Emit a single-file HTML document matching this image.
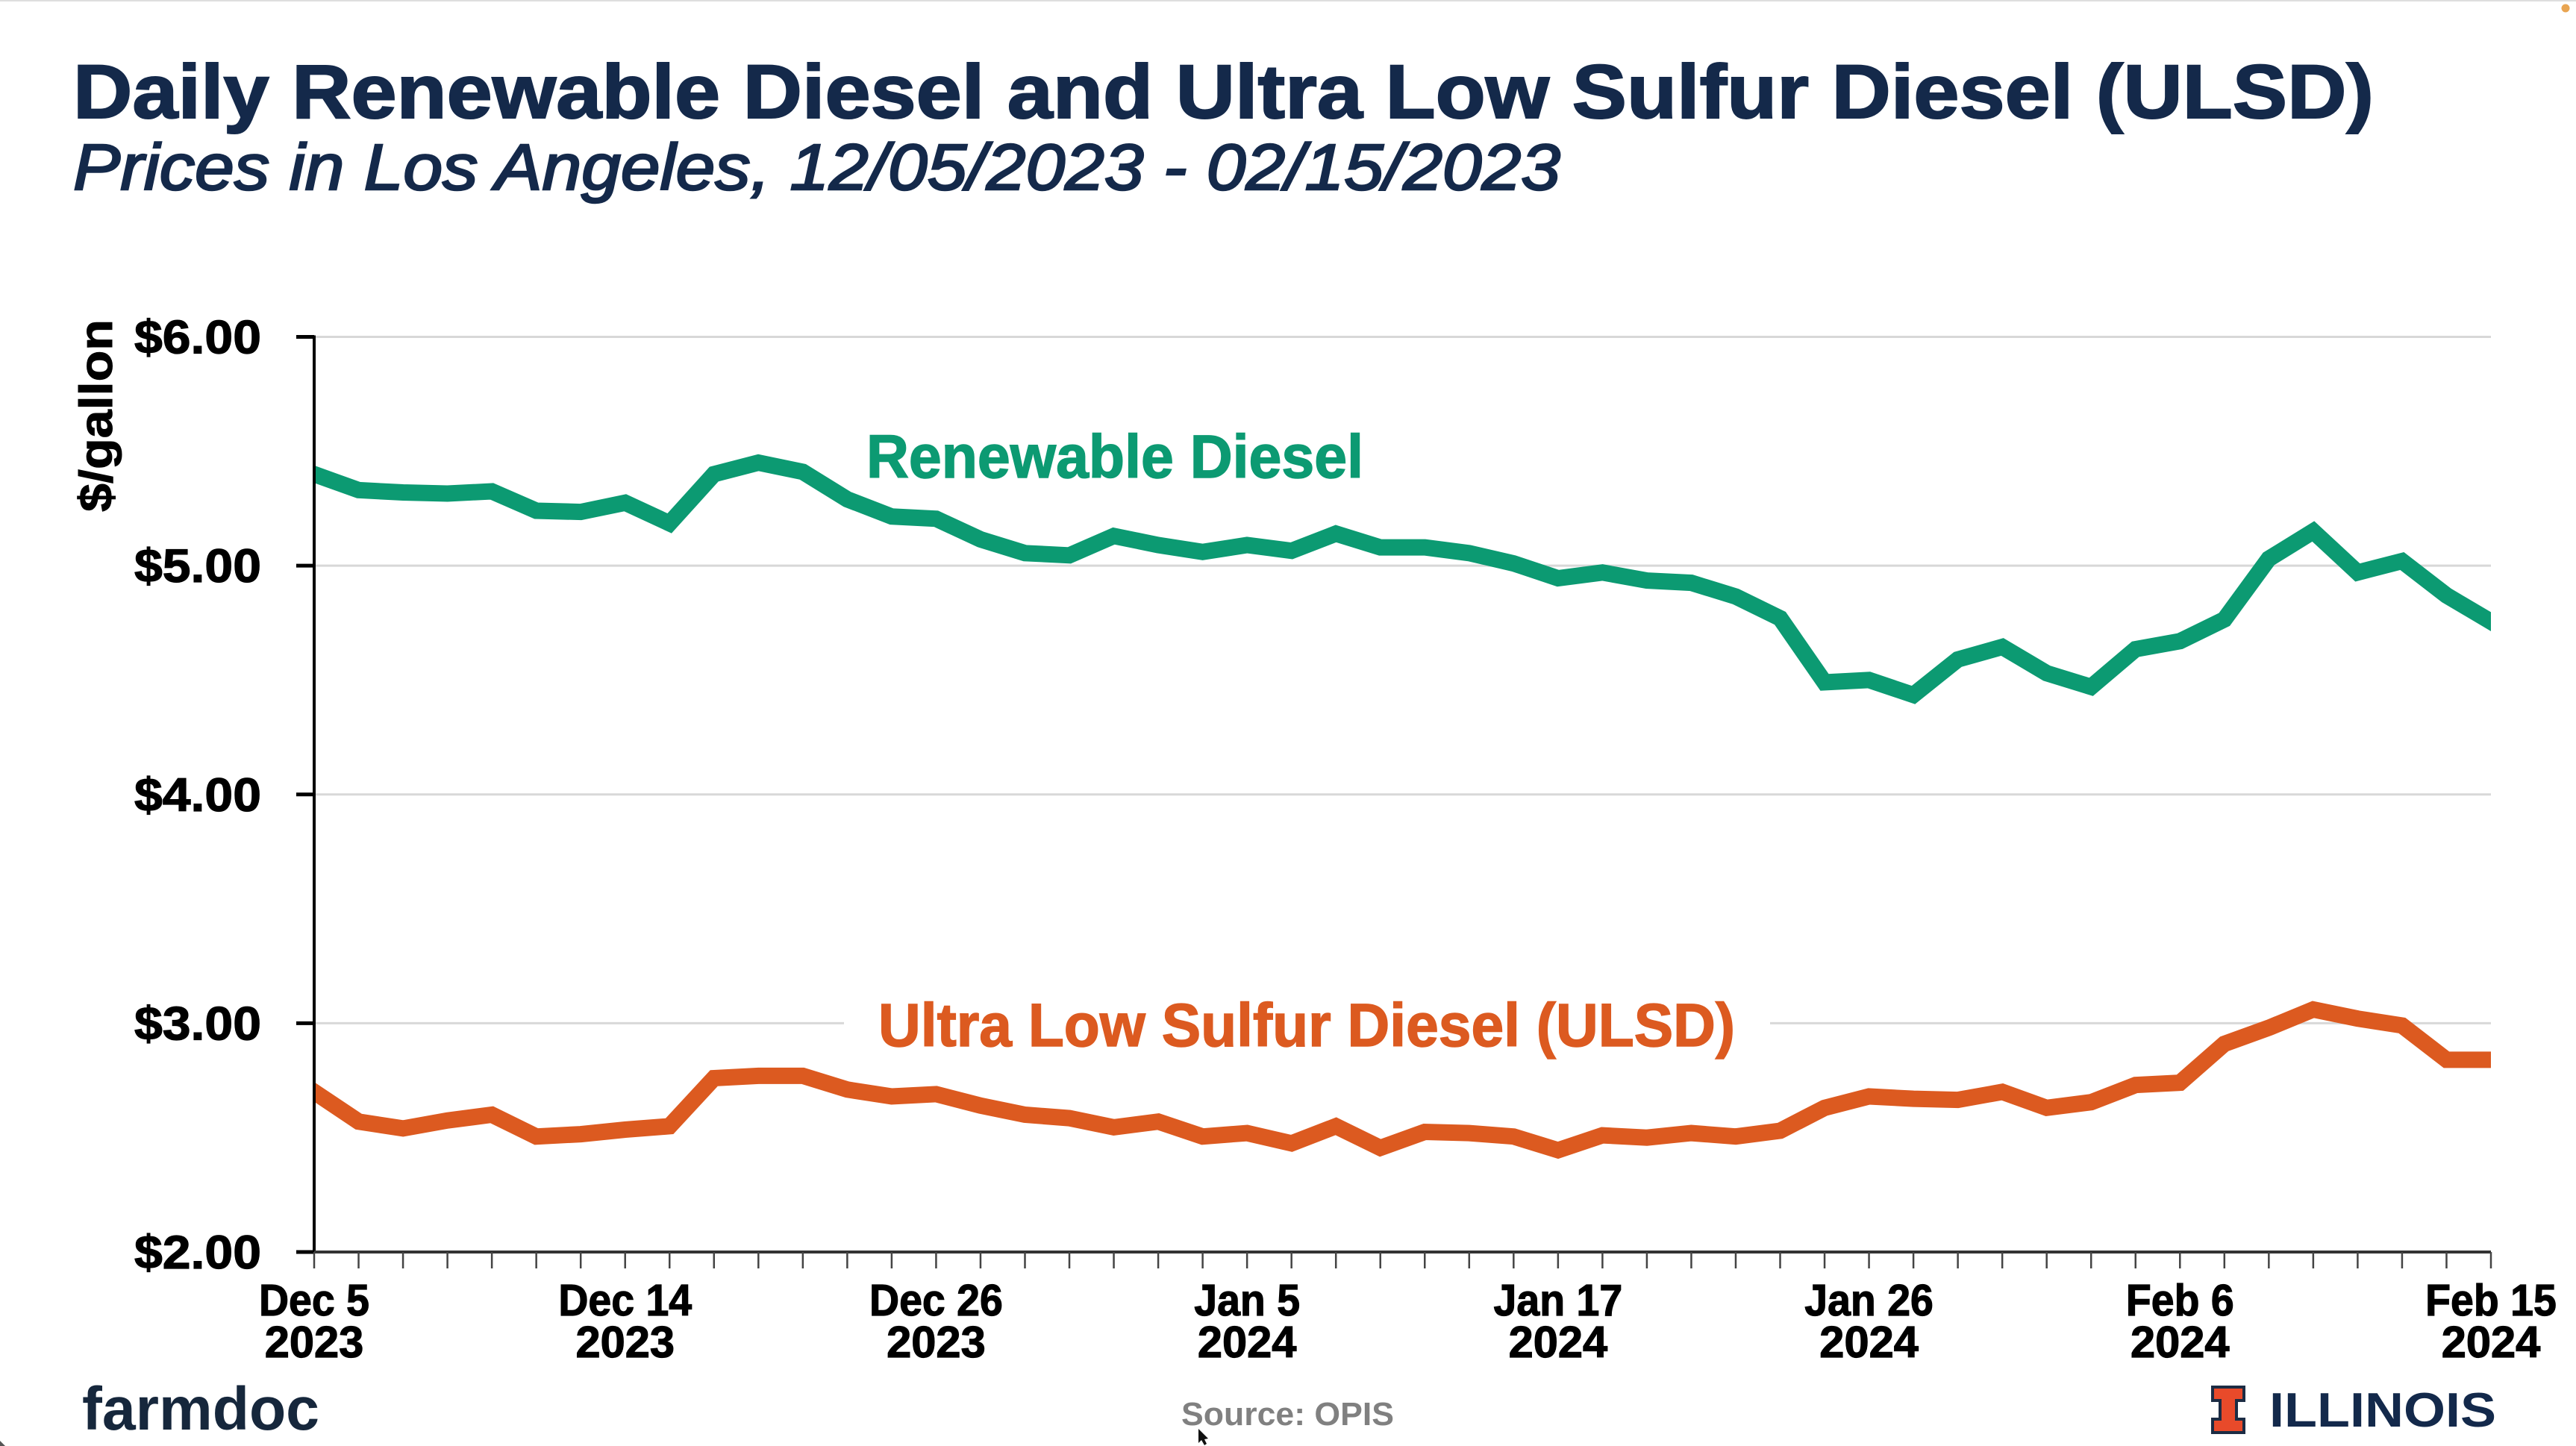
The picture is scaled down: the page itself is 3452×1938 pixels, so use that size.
<!DOCTYPE html>
<html lang="en">
<head>
<meta charset="utf-8">
<title>Daily Renewable Diesel and Ultra Low Sulfur Diesel (ULSD)</title>
<style>
html,body{margin:0;padding:0;background:#fff;width:3452px;height:1938px;overflow:hidden}
svg{display:block}
text{font-family:"Liberation Sans",sans-serif}
</style>
</head>
<body>
<svg id="chart" xmlns="http://www.w3.org/2000/svg" width="3452" height="1938" viewBox="0 0 3452 1938">
  <defs>
    <clipPath id="plot-clip"><rect x="421" y="400" width="2917" height="1290"/></clipPath>
  </defs>
  <rect x="0" y="0" width="3452" height="1938" fill="#ffffff"/>
  <rect x="0" y="0" width="3452" height="2" fill="#dedede"/>
  <circle cx="3438" cy="11" r="5.5" fill="#e9a552"/>
  <polygon points="0,1938 0,1931 7,1938" fill="#555555"/>

  <text x="98" y="158" font-size="102" font-weight="700" fill="#14294a" stroke="#14294a" stroke-width="2" textLength="3083" lengthAdjust="spacingAndGlyphs">Daily Renewable Diesel and Ultra Low Sulfur Diesel (ULSD)</text>
  <text x="98" y="254" font-size="87" font-style="italic" fill="#14294a" stroke="#14294a" stroke-width="2.5" textLength="1993" lengthAdjust="spacingAndGlyphs">Prices in Los Angeles, 12/05/2023 - 02/15/2023</text>

  <g id="grid"></g>
  <rect x="1131" y="1360" width="1241" height="24" fill="#ffffff"/>
  <g id="series" clip-path="url(#plot-clip)"></g>
  <g id="axes"></g>

  <text transform="translate(150,686) rotate(-90)" x="0" y="0" font-size="62" font-weight="700" fill="#000000" stroke="#000000" stroke-width="1" textLength="258" lengthAdjust="spacingAndGlyphs">$/gallon</text>

  <text x="1161" y="640" font-size="82" font-weight="700" fill="#0c9a72" stroke="#0c9a72" stroke-width="1.5" textLength="666" lengthAdjust="spacingAndGlyphs">Renewable Diesel</text>
  <text x="1177" y="1402" font-size="82" font-weight="700" fill="#dc5a20" stroke="#dc5a20" stroke-width="1.5" textLength="1148" lengthAdjust="spacingAndGlyphs">Ultra Low Sulfur Diesel (ULSD)</text>

  <text x="110" y="1916" font-size="82" font-weight="700" fill="#16273c" textLength="318" lengthAdjust="spacingAndGlyphs">farmdoc</text>
  <text x="1583" y="1910" font-size="44" font-weight="700" fill="#808080" textLength="285" lengthAdjust="spacingAndGlyphs">Source: OPIS</text>
  <polygon points="1606,1915 1606,1934 1610,1930 1614,1937 1617,1935 1614,1929 1619,1928" fill="#111111"/>

  <polygon points="2965,1859 3007,1859 3007,1877 2997,1877 2997,1902 3007,1902 3007,1920 2965,1920 2965,1902 2975,1902 2975,1877 2965,1877" fill="#e84a2a" stroke="#1c2c44" stroke-width="4"/>
  <text x="3041" y="1912" font-size="65" font-weight="700" fill="#13294b" textLength="304" lengthAdjust="spacingAndGlyphs">ILLINOIS</text>
</svg>
<script>
const categories = ["Dec 5 2023","Dec 6 2023","Dec 7 2023","Dec 8 2023","Dec 11 2023","Dec 12 2023","Dec 13 2023","Dec 14 2023","Dec 15 2023","Dec 18 2023","Dec 19 2023","Dec 20 2023","Dec 21 2023","Dec 22 2023","Dec 26 2023","Dec 27 2023","Dec 28 2023","Dec 29 2023","Jan 2 2024","Jan 3 2024","Jan 4 2024","Jan 5 2024","Jan 8 2024","Jan 9 2024","Jan 10 2024","Jan 11 2024","Jan 12 2024","Jan 16 2024","Jan 17 2024","Jan 18 2024","Jan 19 2024","Jan 22 2024","Jan 23 2024","Jan 24 2024","Jan 25 2024","Jan 26 2024","Jan 29 2024","Jan 30 2024","Jan 31 2024","Feb 1 2024","Feb 2 2024","Feb 5 2024","Feb 6 2024","Feb 7 2024","Feb 8 2024","Feb 9 2024","Feb 12 2024","Feb 13 2024","Feb 14 2024","Feb 15 2024"];
const renewableDiesel = [5.40,5.33,5.32,5.315,5.325,5.24,5.235,5.275,5.185,5.40,5.45,5.41,5.29,5.215,5.205,5.115,5.055,5.045,5.13,5.09,5.06,5.09,5.065,5.14,5.08,5.08,5.055,5.01,4.945,4.97,4.935,4.925,4.865,4.77,4.49,4.50,4.435,4.59,4.645,4.53,4.47,4.635,4.67,4.765,5.03,5.15,4.97,5.02,4.87,4.755];
const ulsd = [2.70,2.57,2.54,2.575,2.60,2.505,2.515,2.535,2.55,2.76,2.77,2.77,2.71,2.68,2.69,2.64,2.60,2.585,2.545,2.57,2.505,2.52,2.475,2.55,2.455,2.525,2.52,2.505,2.445,2.51,2.50,2.52,2.505,2.53,2.63,2.68,2.67,2.665,2.70,2.63,2.655,2.73,2.74,2.91,2.98,3.06,3.02,2.99,2.84,2.84];
const yTicks = [2,3,4,5,6];
const xLabelEvery = 7;

const SVGNS = "http://www.w3.org/2000/svg";
const plotLeft = 421, plotRight = 3338, plotTop = 451.5, plotBottom = 1678;
const yMin = 2, yMax = 6;
function xScale(i){ return plotLeft + i * (plotRight - plotLeft) / (categories.length - 1); }
function yScale(v){ return plotBottom - (v - yMin) * (plotBottom - plotTop) / (yMax - yMin); }
function make(tag, attrs, parent){
  const el = document.createElementNS(SVGNS, tag);
  for (const k in attrs) el.setAttribute(k, attrs[k]);
  parent.appendChild(el);
  return el;
}
const grid = document.getElementById("grid");
const axes = document.getElementById("axes");
const series = document.getElementById("series");

yTicks.forEach(function(t){
  if (t !== yMin) {
    const g = make("line", {x1: plotLeft, x2: plotRight, y1: yScale(t), y2: yScale(t), stroke: "#d8d8d8", "stroke-width": 3}, grid);
    
    
  }
  const tick = make("line", {x1: 397, x2: plotLeft, y1: yScale(t), y2: yScale(t), stroke: "#000000", "stroke-width": 5}, axes);
  
  
  const label = make("text", {x: 180, y: yScale(t) + 22, "font-size": 63, "font-weight": 700, fill: "#000000", stroke: "#000000", "stroke-width": 1.2, textLength: 170, lengthAdjust: "spacingAndGlyphs"}, axes);
  label.textContent = "$" + t.toFixed(2);
  
  
});

function drawSeries(values, color, name){
  const pts = values.map(function(v, i){ return xScale(i).toFixed(1) + "," + yScale(v).toFixed(1); }).join(" ");
  const line = make("polyline", {points: pts, fill: "none", stroke: color, "stroke-width": 22, "stroke-linejoin": "miter", "stroke-miterlimit": 10, "stroke-linecap": "square"}, series);
  
  
}
drawSeries(renewableDiesel, "#0c9a72", "renewable-diesel-line");
drawSeries(ulsd, "#dc5a20", "ulsd-line");

const yAxis = make("line", {x1: plotLeft, x2: plotLeft, y1: plotTop - 2, y2: plotBottom + 2, stroke: "#000000", "stroke-width": 4}, axes);


const xAxis = make("line", {x1: plotLeft, x2: plotRight, y1: plotBottom, y2: plotBottom, stroke: "#333333", "stroke-width": 4}, axes);



categories.forEach(function(c, i){
  const tick = make("line", {x1: xScale(i), x2: xScale(i), y1: plotBottom, y2: 1700, stroke: "#444444", "stroke-width": 2.5}, axes);
  
  
  if (i % xLabelEvery === 0) {
    const parts = c.split(" ");
    const top = make("text", {transform: "translate(" + xScale(i) + ",1763) scale(0.94,1)", x: 0, y: 0, "font-size": 59, "font-weight": 700, fill: "#000000", stroke: "#000000", "stroke-width": 1.2, "text-anchor": "middle"}, axes);
    top.textContent = parts[0] + " " + parts[1];
    
    
    const bottom = make("text", {transform: "translate(" + xScale(i) + ",1819) scale(1.01,1)", x: 0, y: 0, "font-size": 59, "font-weight": 700, fill: "#000000", stroke: "#000000", "stroke-width": 1.2, "text-anchor": "middle"}, axes);
    bottom.textContent = parts[2];
    
    
  }
});
</script>
</body>
</html>
